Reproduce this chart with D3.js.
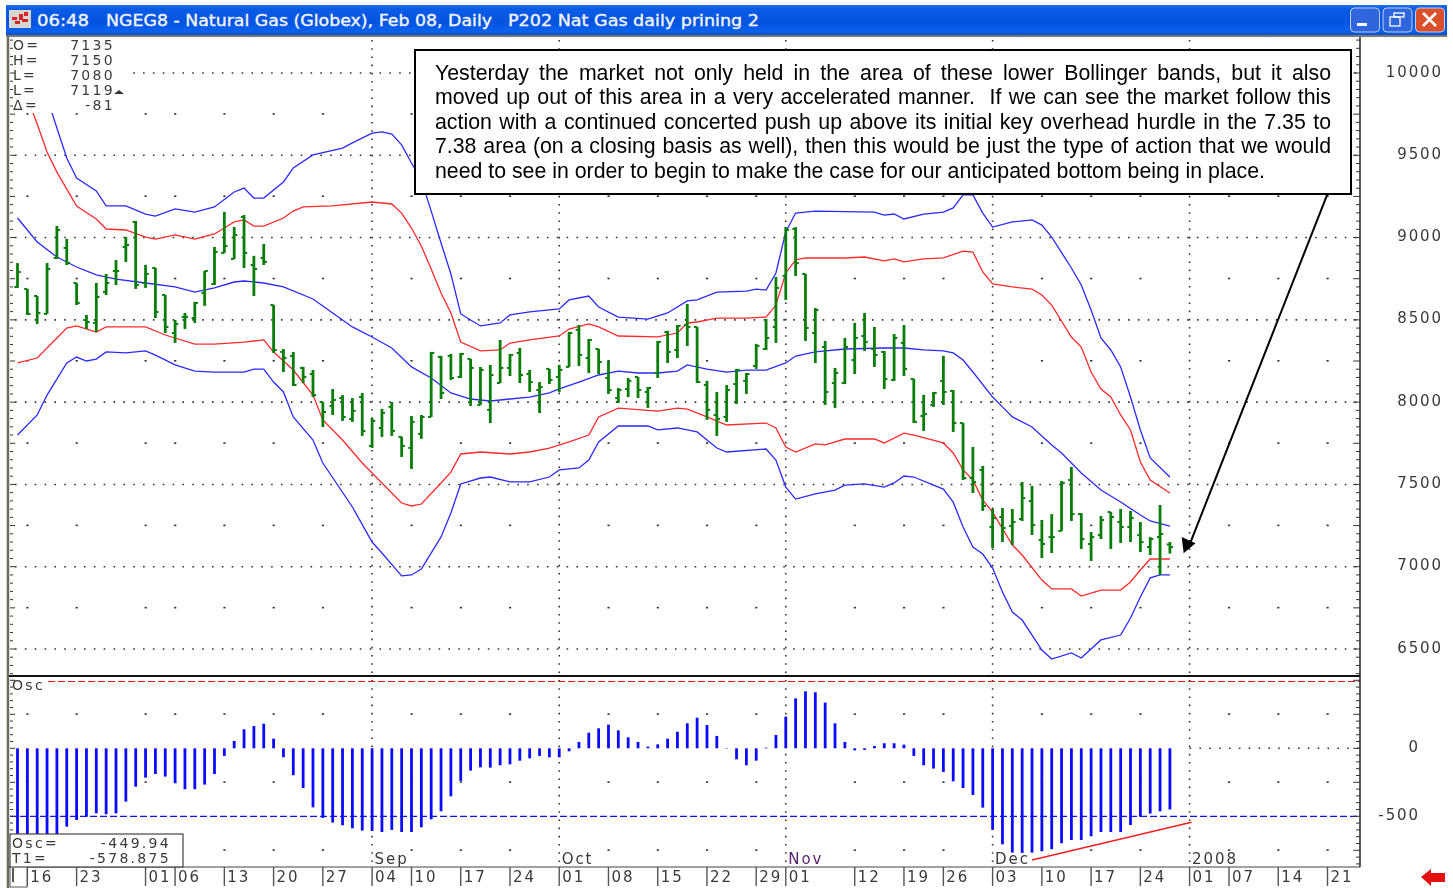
<!DOCTYPE html>
<html lang="en">
<head>
<meta charset="utf-8">
<title>NGEG8 daily</title>
<script src="https://d3js.org/d3.v7.min.js"></script>
<style>
  html, body { margin: 0; padding: 0; background: #fff; overflow: hidden; }
  svg { display: block; filter: blur(0.35px); }
  .lbl { font-family: "DejaVu Sans", sans-serif; font-size: 15px; fill: #3a3a3a; letter-spacing: 1.9px; }
  .small { font-size: 14px; letter-spacing: 2.3px; }
  .note { font-family: "Liberation Sans", Arial, sans-serif; font-size: 21.3px; fill: #000; white-space: pre; }
</style>
</head>
<body>
<svg width="1453" height="888"></svg>
<script>
// daily bars, index 0 = first bar on the chart
const opens = [8700,8688,8645,8536,8876,8937,8724,8499,8481,8670,8797,8943,9095,8724,8815,8651,8420,8518,8511,8663,8718,8907,8870,9125,8833,8876,8590,8305,8281,8208,8171,8001,7977,8025,7898,8031,7734,7843,7971,7789,7722,7807,7910,8275,8281,8153,8263,7983,7953,8116,8208,8299,8171,8074,8202,8153,8214,8439,8268,8323,8147,8025,8080,8153,8062,8177,8426,8317,8469,8457,8104,7922,7910,8110,8129,8220,8323,8457,8767,9052,8779,8420,8335,8116,8116,8256,8402,8323,8305,8135,8360,8141,7916,7983,8129,8068,7873,7539,7588,7242,7302,7247,7290,7399,7162,7180,7217,7527,7320,7138,7192,7332,7272,7241,7192,7120,7180,7135];
const highs = [8845,8688,8645,8845,9071,8992,8724,8530,8724,8779,8864,9004,9101,8834,8815,8651,8499,8542,8609,8797,8943,9156,9064,9137,8889,8961,8590,8323,8305,8214,8196,8001,8080,8043,8025,8056,7904,7959,8001,7789,7916,7922,8305,8281,8293,8299,8263,8214,8226,8378,8293,8329,8196,8122,8202,8226,8427,8469,8384,8323,8250,8086,8147,8153,8092,8372,8433,8469,8597,8457,8129,8062,8104,8202,8177,8354,8505,8761,9064,9064,8779,8572,8372,8208,8390,8481,8542,8457,8311,8414,8469,8141,8044,8062,8281,8074,7873,7728,7612,7351,7357,7351,7515,7491,7284,7320,7521,7606,7326,7211,7308,7332,7351,7339,7272,7180,7375,7150];
const lows = [8694,8530,8475,8536,8870,8833,8590,8445,8427,8651,8712,8852,8688,8694,8511,8420,8360,8445,8481,8585,8712,8907,8870,8815,8645,8833,8299,8183,8098,8116,8031,7849,7922,7886,7880,7795,7722,7789,7795,7667,7594,7777,7910,8019,8135,8147,7977,7983,7873,8116,8159,8116,8062,7934,8110,8062,8214,8220,8177,8171,8050,7995,8031,8025,7965,8147,8238,8268,8341,8116,7892,7795,7880,7989,8050,8202,8317,8360,8621,8767,8372,8238,7983,7965,8110,8171,8311,8214,8080,8129,8159,7873,7825,7971,7983,7819,7527,7448,7339,7113,7150,7132,7278,7193,7053,7083,7217,7278,7108,7035,7168,7108,7144,7150,7089,7071,6950,7080];
const closes = [8791,8536,8542,8809,9046,8845,8603,8487,8639,8724,8797,8955,8712,8779,8548,8457,8475,8518,8603,8797,8913,8949,9016,8907,8809,8852,8317,8269,8104,8153,8043,7940,8013,7910,7947,7825,7886,7935,7825,7734,7880,7910,8299,8056,8147,8293,8208,8196,8165,8208,8287,8165,8122,8092,8135,8196,8420,8287,8378,8244,8074,8074,8129,8074,8086,8366,8305,8463,8457,8122,7953,7898,8074,8196,8171,8341,8390,8694,9046,8845,8451,8560,8062,8177,8335,8390,8366,8287,8141,8390,8202,7880,7928,8056,8062,7873,7539,7515,7369,7296,7235,7272,7417,7253,7138,7180,7509,7320,7168,7180,7284,7302,7241,7296,7150,7168,7199,7119];

// oscillator histogram, same bar index
const osc = [-630,-630,-630,-630,-630,-576,-527,-502,-478,-485,-478,-392,-282,-216,-189,-208,-257,-301,-301,-267,-189,-56,54,140,164,181,71,-66,-198,-292,-434,-512,-546,-566,-588,-605,-608,-615,-600,-615,-615,-581,-522,-463,-353,-240,-164,-140,-142,-125,-118,-91,-74,-56,-66,-66,-22,47,115,147,174,132,81,47,12,29,71,122,184,225,171,91,-3,-81,-125,-91,5,98,233,367,419,412,336,184,47,-15,-12,17,37,37,27,-56,-125,-149,-174,-243,-292,-343,-436,-600,-706,-767,-769,-767,-757,-742,-698,-674,-674,-647,-615,-615,-615,-564,-502,-480,-463,-450];

// bands as [bar index, price]
const upperBlue = [[3,9848],[5,9484],[6,9362],[8,9283],[9,9192],[11,9192],[13,9143],[14,9131],[16,9174],[18,9155],[20,9186],[22,9277],[23,9301],[24,9240],[25,9240],[27,9338],[28,9423],[30,9502],[33,9544],[34,9575],[36,9635],[37,9642],[38,9629],[39,9563],[40,9453],[41,9350],[42,9161],[43,8967],[44,8779],[45,8536],[46,8499],[47,8463],[49,8481],[50,8530],[52,8548],[55,8566],[56,8621],[58,8645],[59,8578],[61,8517],[64,8505],[66,8542],[68,8615],[69,8621],[71,8669],[74,8675],[75,8687],[76,8681],[77,8785],[78,9034],[79,9149],[81,9161],[87,9155],[88,9137],[89,9143],[90,9113],[92,9143],[94,9155],[95,9180],[96,9259],[97,9259],[98,9149],[99,9064],[101,9095],[103,9107],[104,9076],[105,9003],[107,8815],[108,8712],[109,8560],[110,8390],[111,8317],[112,8214],[113,8031],[114,7831],[115,7661],[117,7545]];
const upperRed = [[1,9854],[2,9690],[3,9520],[4,9398],[6,9192],[8,9113],[9,9052],[11,9046],[13,9003],[14,8991],[16,9016],[18,8991],[20,9022],[21,9058],[22,9095],[23,9107],[24,9070],[25,9070],[27,9119],[28,9161],[29,9186],[32,9192],[36,9216],[38,9204],[39,9149],[40,9058],[41,8949],[42,8809],[43,8663],[44,8542],[45,8365],[47,8311],[49,8317],[50,8359],[52,8378],[55,8402],[56,8444],[58,8475],[59,8457],[61,8402],[65,8396],[67,8420],[68,8481],[69,8487],[71,8511],[74,8511],[76,8517],[77,8590],[78,8785],[79,8864],[80,8876],[84,8876],[86,8882],[88,8858],[89,8870],[90,8852],[92,8870],[94,8876],[96,8918],[97,8912],[98,8791],[99,8718],[101,8700],[103,8687],[104,8651],[105,8590],[107,8396],[108,8335],[109,8183],[110,8080],[111,8031],[112,7922],[113,7831],[114,7636],[115,7527],[117,7448]];
const midBlue = [[0,9119],[2,8973],[4,8882],[6,8821],[8,8773],[10,8748],[13,8724],[16,8700],[18,8669],[20,8694],[22,8730],[23,8736],[25,8724],[27,8700],[30,8627],[32,8542],[34,8457],[36,8396],[38,8329],[40,8214],[42,8147],[44,8056],[46,8019],[48,8007],[50,8019],[52,8031],[54,8056],[55,8080],[57,8122],[59,8165],[61,8189],[63,8177],[65,8177],[67,8189],[68,8226],[70,8201],[72,8183],[74,8195],[76,8195],[78,8238],[79,8280],[81,8305],[84,8323],[88,8329],[90,8329],[92,8317],[94,8311],[95,8299],[96,8256],[97,8183],[99,8031],[100,7971],[101,7910],[103,7849],[105,7740],[106,7691],[108,7569],[110,7466],[112,7393],[114,7314],[115,7278],[117,7247]];
const lowerRed = [[0,8238],[2,8268],[4,8390],[5,8450],[6,8463],[8,8426],[9,8457],[13,8457],[15,8408],[18,8353],[20,8353],[23,8365],[25,8378],[26,8305],[28,8195],[30,8043],[31,7892],[33,7770],[35,7630],[37,7509],[39,7387],[40,7369],[41,7381],[43,7509],[44,7575],[45,7685],[47,7697],[50,7685],[52,7697],[54,7721],[56,7758],[58,7800],[59,7910],[61,7964],[65,7946],[67,7964],[68,7958],[70,7910],[72,7861],[76,7873],[77,7843],[78,7727],[79,7697],[81,7746],[82,7740],[84,7776],[87,7776],[88,7752],[90,7812],[91,7800],[94,7752],[95,7691],[96,7588],[97,7527],[98,7405],[99,7332],[101,7132],[102,7071],[104,6919],[105,6865],[107,6865],[108,6822],[110,6858],[112,6858],[113,6907],[114,6980],[115,7047],[117,7047]];
const lowerBlue = [[0,7800],[2,7922],[3,8043],[5,8238],[6,8274],[7,8250],[8,8262],[9,8305],[11,8299],[13,8311],[14,8286],[16,8226],[18,8189],[20,8183],[23,8183],[24,8201],[25,8201],[26,8122],[27,8062],[28,7910],[30,7770],[31,7630],[34,7363],[36,7150],[37,7083],[39,6944],[40,6950],[41,6986],[43,7181],[44,7326],[45,7503],[47,7539],[48,7545],[50,7515],[52,7515],[54,7545],[55,7588],[57,7600],[58,7648],[59,7758],[61,7855],[64,7855],[65,7831],[67,7843],[69,7819],[71,7721],[72,7697],[76,7715],[77,7648],[78,7484],[79,7411],[81,7442],[83,7466],[84,7496],[86,7503],[88,7484],[89,7509],[90,7551],[91,7545],[93,7496],[94,7472],[95,7393],[96,7241],[97,7120],[98,7077],[99,6992],[100,6846],[101,6725],[102,6676],[104,6494],[105,6439],[107,6476],[108,6445],[110,6555],[112,6585],[113,6688],[114,6816],[115,6932],[116,6950],[117,6950]];

// axis labels
const priceLabels = [10000,9500,9000,8500,8000,7500,7000,6500];
const minorPrice = [9750,9250,8750,8250,7750,7250,6750];
const oscLabels = [0,-500];
const minorOsc = [250,-250,-750];
const dateLabels = ["16","23","01","06","13","20","27","04","10","17","24","01","08","15","22","29","01","12","19","26","03","10","17","24","01","07","14","21"];
const dateIndex = [1,6,13,16,21,26,31,36,40,45,50,55,60,65,70,75,78,85,90,94,99,104,109,114,119,123,128,133];
const monthLabels = ["Sep","Oct","Nov","Dec","2008"];
const monthIndex = [36,55,78,99,119];
const quote = [["O=","7135"],["H=","7150"],["L=","7080"],["L=","7119"],["\u0394=","-81"]];
const trendLine = [[103,-821],[119.2,-544]];
const arrowLine = [[133,9265],[119.1,7150]];
const arrowHead = [[118.4,7082],[118.2,7180],[119.6,7143]];
const noteLines = [
  "Yesterday the market not only held in the area of these lower Bollinger bands, but it also",
  "moved up out of this area in a very accelerated manner.  If we can see the market follow this",
  "action with a continued concerted push up above its initial key overhead hurdle in the 7.35 to",
  "7.38 area (on a closing basis as well), then this would be just the type of action that we would",
  "need to see in order to begin to make the case for our anticipated bottom being in place."
];

const svg = d3.select("svg");
const defs = svg.append("defs");

const x = d3.scaleLinear().domain([0, 133]).range([17.5, 1327.5]);
const y = d3.scaleLinear().domain([10000, 6500]).range([73, 649]);
const yOsc = d3.scaleLinear().domain([0, -500]).range([748.3, 816.3]);

const plotL = 10, plotR = 1360, plotT = 38, sep = 676, plotB = 867;
const blue = "#2a2aff", red = "#ff2a2a", green = "#0a7d0a";

// window title bar
const grad = defs.append("linearGradient").attr("id", "bar").attr("x2", 0).attr("y2", 1);
[[0, "#1f6fe8"], [0.12, "#0a5ce6"], [0.55, "#0553e0"], [0.85, "#0a62ee"], [1, "#0347c8"]].forEach(s =>
  grad.append("stop").attr("offset", s[0]).attr("stop-color", s[1]));
svg.append("rect").attr("x", 6).attr("y", 5).attr("width", 1441).attr("height", 31).attr("fill", "url(#bar)");
svg.append("rect").attr("x", 6).attr("y", 35).attr("width", 1441).attr("height", 2).attr("fill", "#7d7a70");

const icon = svg.append("g");
icon.append("rect").attr("x", 9).attr("y", 10).attr("width", 22).attr("height", 18).attr("fill", "#d9d6cf");
[[12,17,5,3],[19,14,4,6],[24,12,4,4],[15,21,5,3],[22,19,6,3]].forEach(r =>
  icon.append("rect").attr("x", r[0]).attr("y", r[1]).attr("width", r[2]).attr("height", r[3]).attr("fill", "#d8262c"));

const titleFont = (s, tx, w) => svg.append("text").attr("x", tx).attr("y", 26)
  .attr("textLength", w).attr("lengthAdjust", "spacingAndGlyphs")
  .attr("font-family", "DejaVu Sans, sans-serif").attr("font-size", 15)
  .attr("fill", "#f2f6ff").attr("stroke", "#f2f6ff").attr("stroke-width", 0.35).text(s);
titleFont("06:48", 37, 52);
titleFont("NGEG8 - Natural Gas (Globex), Feb 08, Daily", 106, 386);
titleFont("P202 Nat Gas daily prining 2", 508, 251);

// window buttons
const btn = (bx, c) => svg.append("rect").attr("x", bx).attr("y", 8).attr("width", 29).attr("height", 24).attr("rx", 4)
  .attr("fill", c).attr("stroke", "#b9cff5").attr("stroke-width", 1);
btn(1350.5, "#2f66de"); btn(1383, "#2f66de"); btn(1415.5, "#d9502a");
svg.append("rect").attr("x", 1357).attr("y", 23).attr("width", 10).attr("height", 3).attr("fill", "#fff");
svg.append("rect").attr("x", 1390).attr("y", 17).attr("width", 10).attr("height", 9).attr("fill", "none").attr("stroke", "#fff").attr("stroke-width", 1.3);
svg.append("rect").attr("x", 1394).attr("y", 13).attr("width", 10).attr("height", 4).attr("fill", "none").attr("stroke", "#fff").attr("stroke-width", 1.3);
svg.append("path").attr("d", "M1423,13L1436,26M1436,13L1423,26").attr("stroke", "#fff").attr("stroke-width", 2.6);

// grid
const gridH = svg.append("g").attr("stroke", "#333").attr("stroke-width", 1.6).attr("stroke-dasharray", "1.6 8.25");
gridH.selectAll("line").data(priceLabels).join("line")
  .attr("x1", plotL + 5).attr("x2", plotR).attr("y1", d => y(d)).attr("y2", d => y(d));
svg.append("g").attr("stroke", "#333").attr("stroke-width", 1.6).attr("stroke-dasharray", "1.6 8.25")
  .selectAll("line").data([0]).join("line")
  .attr("x1", x(119)).attr("x2", plotR).attr("y1", d => yOsc(d)).attr("y2", d => yOsc(d));

const dotTicks = dateIndex.filter(d => !monthIndex.includes(d));
const dots = svg.append("g").attr("fill", "#333");
minorPrice.forEach(v => dots.append("g").selectAll("rect").data(dotTicks).join("rect")
  .attr("x", d => x(d) - 1).attr("y", y(v) - 1).attr("width", 2.2).attr("height", 1.6));
minorOsc.forEach(v => dots.append("g").selectAll("rect").data(dotTicks).join("rect")
  .attr("x", d => x(d) - 1).attr("y", yOsc(v) - 1).attr("width", 2.2).attr("height", 1.6));

svg.append("g").attr("stroke", "#333").attr("stroke-width", 1.6).attr("stroke-dasharray", "1.6 6.6")
  .selectAll("line").data(monthIndex).join("line")
  .attr("x1", d => x(d)).attr("x2", d => x(d)).attr("y1", plotT + 2).attr("y2", sep);
svg.append("g").attr("stroke", "#333").attr("stroke-width", 1.6).attr("stroke-dasharray", "1.6 6.6")
  .selectAll("line").data(monthIndex).join("line")
  .attr("x1", d => x(d)).attr("x2", d => x(d)).attr("y1", sep + 4).attr("y2", plotB);

// oscillator reference levels
svg.append("line").attr("x1", plotL + 38).attr("x2", plotR).attr("y1", 681.5).attr("y2", 681.5)
  .attr("stroke", "#f01010").attr("stroke-width", 1.2).attr("stroke-dasharray", "7 3");
svg.append("line").attr("x1", plotL).attr("x2", plotR).attr("y1", yOsc(-500)).attr("y2", yOsc(-500))
  .attr("stroke", "#1010f0").attr("stroke-width", 1.2).attr("stroke-dasharray", "7 3");

// bollinger bands
const bandLine = d3.line().x(d => x(d[0])).y(d => y(d[1]));
defs.append("clipPath").attr("id", "bandClip").append("rect")
  .attr("x", plotL).attr("y", 113).attr("width", plotR - plotL).attr("height", sep - 113);
const bands = svg.append("g").attr("clip-path", "url(#bandClip)").attr("fill", "none").attr("stroke-width", 1.3);
[[upperBlue, blue], [upperRed, red], [midBlue, blue], [lowerRed, red], [lowerBlue, blue]].forEach(b =>
  bands.append("path").attr("d", bandLine(b[0])).attr("stroke", b[1]));

// price bars
const bars = svg.append("g").attr("stroke", green);
const idx = d3.range(opens.length);
bars.selectAll("line.hl").data(idx).join("line").attr("class", "hl")
  .attr("x1", i => x(i)).attr("x2", i => x(i))
  .attr("y1", i => y(highs[i])).attr("y2", i => y(lows[i])).attr("stroke-width", 2.8);
bars.selectAll("line.op").data(idx).join("line").attr("class", "op")
  .attr("x1", i => x(i) - 3.2).attr("x2", i => x(i))
  .attr("y1", i => y(opens[i])).attr("y2", i => y(opens[i])).attr("stroke-width", 2);
bars.selectAll("line.cl").data(idx).join("line").attr("class", "cl")
  .attr("x1", i => x(i)).attr("x2", i => x(i) + 3.2)
  .attr("y1", i => y(closes[i])).attr("y2", i => y(closes[i])).attr("stroke-width", 2);

// oscillator bars
svg.append("g").attr("stroke", "#0a0aff").attr("stroke-width", 2.8)
  .selectAll("line").data(osc).join("line")
  .attr("x1", (d, i) => x(i)).attr("x2", (d, i) => x(i))
  .attr("y1", yOsc(0)).attr("y2", d => yOsc(d));

// trend line under the oscillator
const oscLine = d3.line().x(d => x(d[0])).y(d => yOsc(d[1]));
svg.append("path").attr("d", oscLine(trendLine)).attr("stroke", "#f02020").attr("stroke-width", 1.4).attr("fill", "none");

// frame and separators
svg.append("line").attr("x1", 8).attr("x2", 8).attr("y1", 37).attr("y2", 888).attr("stroke", "#6e6a60").attr("stroke-width", 2.5);
svg.append("line").attr("x1", plotL - 1).attr("x2", plotR).attr("y1", sep).attr("y2", sep).attr("stroke", "#111").attr("stroke-width", 2);
svg.append("line").attr("x1", plotL - 1).attr("x2", plotR).attr("y1", plotB).attr("y2", plotB).attr("stroke", "#444").attr("stroke-width", 1.2);
svg.append("line").attr("x1", plotR).attr("x2", plotR).attr("y1", 37).attr("y2", plotB).attr("stroke", "#222").attr("stroke-width", 1.5);

// quote block sits on a clear patch, the 10000 grid row starts after it
svg.append("rect").attr("x", plotL).attr("y", plotT).attr("width", 116).attr("height", 74).attr("fill", "#fff");

// tick marks on both sides of both panels
const priceTicks = d3.range(6300, 10351, 50);
const oscTicks = d3.range(-850, 501, 50);
const tickSet = (scale, vals, major, tx, len, sign) => svg.append("g").attr("stroke", "#333")
  .selectAll("line").data(vals).join("line")
  .attr("x1", tx).attr("x2", d => tx + sign * (major(d) ? len * 1.7 : len))
  .attr("y1", d => scale(d)).attr("y2", d => scale(d));
const isMajor = d => d % 250 === 0;
tickSet(y, priceTicks.filter(d => y(d) > 40 && y(d) < sep), isMajor, plotR, 4, -1);
tickSet(y, priceTicks.filter(d => y(d) > 40 && y(d) < sep), isMajor, plotL, 3, 1);
tickSet(yOsc, oscTicks.filter(d => yOsc(d) > sep + 2 && yOsc(d) < plotB), isMajor, plotR, 4, -1);
tickSet(yOsc, oscTicks.filter(d => yOsc(d) > sep + 2 && yOsc(d) < 833), isMajor, plotL, 3, 1);

// axis labels
svg.append("g").selectAll("text").data(priceLabels).join("text").attr("class", "lbl")
  .attr("x", 1443).attr("y", d => y(d) + 3.5).attr("text-anchor", "end").text(d => d);
svg.append("g").selectAll("text").data(oscLabels).join("text").attr("class", "lbl")
  .attr("x", 1420).attr("y", d => yOsc(d) + 3.5).attr("text-anchor", "end").text(d => d);

// date axis
svg.append("g").attr("stroke", "#555").attr("stroke-width", 1.4).selectAll("line").data(dateIndex).join("line")
  .attr("x1", d => x(d)).attr("x2", d => x(d)).attr("y1", plotB).attr("y2", 886);
svg.append("g").selectAll("text").data(dateLabels).join("text").attr("class", "lbl")
  .attr("x", (d, i) => x(dateIndex[i]) + 3).attr("y", 882).text(d => d);
svg.append("g").selectAll("text").data(monthLabels).join("text").attr("class", "lbl")
  .attr("x", (d, i) => x(monthIndex[i]) + 2.5).attr("y", 864)
  .style("fill", d => d === "Nov" ? "#5a1f6e" : null).text(d => d);

// cursor box at the start of the date axis
svg.append("rect").attr("x", 10).attr("y", 866).attr("width", 17).attr("height", 21).attr("fill", "#fff").attr("stroke", "#555");
svg.append("line").attr("x1", 13).attr("x2", 13).attr("y1", 868).attr("y2", 882).attr("stroke", "#111").attr("stroke-width", 1.4);

// quote block
const qY = d3.scalePoint().domain(d3.range(quote.length)).range([50, 110]);
const q = svg.append("g").selectAll("g").data(quote).join("g").attr("transform", (d, i) => `translate(0,${qY(i)})`);
q.append("text").attr("class", "lbl small").attr("x", 13).text(d => d[0]);
q.append("text").attr("class", "lbl small").attr("x", 115).attr("text-anchor", "end").text(d => d[1]);
svg.append("path").attr("d", "M114,94L119,90L124,94Z").attr("fill", "#333");

// oscillator read-out
svg.append("text").attr("class", "lbl small").attr("x", 12).attr("y", 690).text("Osc");
svg.append("rect").attr("x", 10).attr("y", 834).attr("width", 173).attr("height", 33).attr("fill", "#fff").attr("stroke", "#444").attr("stroke-width", 1.2);
svg.append("text").attr("class", "lbl small").attr("x", 12).attr("y", 848).text("Osc=");
svg.append("text").attr("class", "lbl small").attr("x", 171).attr("y", 848).attr("text-anchor", "end").text("-449.94");
svg.append("text").attr("class", "lbl small").attr("x", 12).attr("y", 863).text("T1=");
svg.append("text").attr("class", "lbl small").attr("x", 171).attr("y", 863).attr("text-anchor", "end").text("-578.875");

// annotation box
svg.append("rect").attr("x", 415).attr("y", 50).attr("width", 936).attr("height", 144)
  .attr("fill", "#fff").attr("stroke", "#000").attr("stroke-width", 2);
const noteWidth = 896;
svg.append("g").selectAll("text").data(noteLines).join("text").attr("class", "note")
  .attr("x", 435).attr("y", (d, i) => 80 + i * 24.45).text(d => d)
  .each(function (d, i) {
    if (i === noteLines.length - 1) return;
    const gaps = d.split(" ").length - 1;
    const extra = (noteWidth - this.getComputedTextLength()) / gaps;
    d3.select(this).style("word-spacing", extra + "px");
  });

// arrow to the last bar
const arrowPath = d3.line().x(d => x(d[0])).y(d => y(d[1]));
svg.append("path").attr("d", arrowPath(arrowLine)).attr("stroke", "#000").attr("stroke-width", 2).attr("fill", "none");
svg.append("path").attr("d", arrowPath(arrowHead) + "Z").attr("fill", "#000");

// red scroll arrow, bottom right
svg.append("path").attr("fill", "#e60f0f").attr("d", "M1421,877L1431,869L1431,873L1445,873L1445,882L1431,882L1431,886Z");
</script>
</body>
</html>
